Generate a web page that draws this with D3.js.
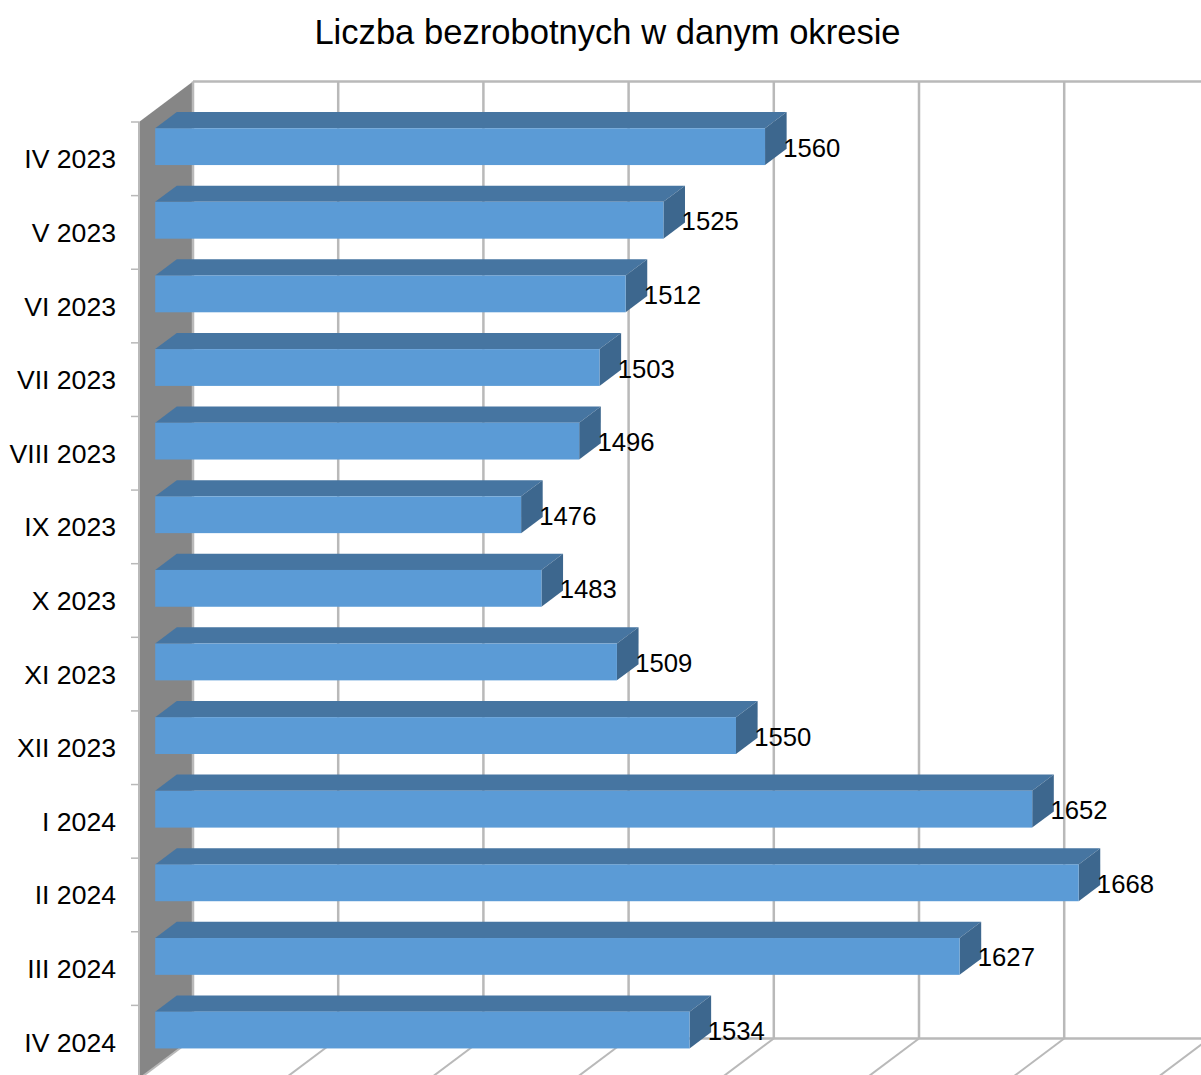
<!DOCTYPE html>
<html>
<head>
<meta charset="utf-8">
<script src="https://cdn.jsdelivr.net/npm/d3@7"></script>
<style>
  html, body { margin: 0; padding: 0; background: #fff; }
  svg { display: block; font-family: "Liberation Sans", Arial, sans-serif; font-kerning: none; }
</style>
</head>
<body>
<div id="chart"></div>
<script>
const categories = ["IV 2023", "V 2023", "VI 2023", "VII 2023", "VIII 2023", "IX 2023", "X 2023",
  "XI 2023", "XII 2023", "I 2024", "II 2024", "III 2024", "IV 2024"];
const values = [1560, 1525, 1512, 1503, 1496, 1476, 1483, 1509, 1550, 1652, 1668, 1627, 1534];
const xDomain = [1350, 1750];
const chartTitle = "Liczba bezrobotnych w danym okresie";

const width = 1201;
const height = 1075;

// front plane of the 3d box, depth goes up and to the right
const depthX = 54;
const depthY = -40.5;
const barNear = 0.3;
const barFar = 0.7;

const x = d3.scaleLinear().domain(xDomain).range([139, 1300.6]);
const y = d3.scaleBand().domain(categories).range([122, 1079]).paddingInner(0.5).paddingOuter(0.25);

const svg = d3.select("#chart").append("svg")
  .attr("width", width)
  .attr("height", height)
  .attr("viewBox", `0 0 ${width} ${height}`);

const gridColor = "#b9b9b9";
const gridTicks = d3.range(xDomain[0], xDomain[1] + 1, 50);
const [x0, x1] = [x(xDomain[0]), x(xDomain[1])];
const [yTop, yBot] = y.range();
const pts = a => a.map(p => p.join(",")).join(" ");

// side wall
svg.append("polygon")
  .attr("points", pts([[x0, yTop], [x0 + depthX, yTop + depthY], [x0 + depthX, yBot + depthY], [x0, yBot]]))
  .attr("fill", "#868686");
svg.append("line")
  .attr("x1", x0).attr("x2", x0).attr("y1", yTop).attr("y2", yBot)
  .attr("stroke", gridColor).attr("stroke-width", 2);

// back wall frame and grid
svg.append("g").selectAll("line")
  .data(gridTicks)
  .join("line")
  .attr("x1", d => x(d) + depthX).attr("x2", d => x(d) + depthX)
  .attr("y1", yTop + depthY).attr("y2", yBot + depthY)
  .attr("stroke", gridColor).attr("stroke-width", 2.5);

svg.append("g").selectAll("line")
  .data(gridTicks)
  .join("line")
  .attr("x1", d => x(d) + depthX).attr("y1", yBot + depthY)
  .attr("x2", d => x(d)).attr("y2", yBot)
  .attr("stroke", gridColor).attr("stroke-width", 2);

svg.append("g").selectAll("line")
  .data([yTop + depthY, yBot + depthY])
  .join("line")
  .attr("x1", x0 + depthX).attr("x2", x1 + depthX)
  .attr("y1", d => d).attr("y2", d => d)
  .attr("stroke", gridColor).attr("stroke-width", 2.5);

// category tick marks sit on the band edges
svg.append("g").selectAll("line")
  .data(d3.range(categories.length))
  .join("line")
  .attr("x1", x0 - 8).attr("x2", x0)
  .attr("y1", i => y(categories[i]) - y.step() * 0.25)
  .attr("y2", i => y(categories[i]) - y.step() * 0.25)
  .attr("stroke", gridColor).attr("stroke-width", 1.5);

// bars
const data = categories.map((c, i) => ({ cat: c, value: values[i] }));
const bars = svg.append("g").selectAll("g")
  .data(data)
  .join("g")
  .attr("class", "bar");

const nearX = d => x(d) + depthX * barNear;
const farX = d => x(d) + depthX * barFar;
const nearY = c => y(c) + depthY * barNear;
const farY = c => y(c) + depthY * barFar;

bars.append("polygon")
  .attr("points", d => pts([
    [nearX(xDomain[0]), nearY(d.cat)], [farX(xDomain[0]), farY(d.cat)],
    [farX(d.value), farY(d.cat)], [nearX(d.value), nearY(d.cat)]]))
  .attr("fill", "#4675a1");

bars.append("polygon")
  .attr("points", d => pts([
    [nearX(d.value), nearY(d.cat)], [farX(d.value), farY(d.cat)],
    [farX(d.value), farY(d.cat) + y.bandwidth()], [nearX(d.value), nearY(d.cat) + y.bandwidth()]]))
  .attr("fill", "#3d678e");

bars.append("rect")
  .attr("x", nearX(xDomain[0]))
  .attr("y", d => nearY(d.cat))
  .attr("width", d => x(d.value) - x(xDomain[0]))
  .attr("height", y.bandwidth())
  .attr("fill", "#5b9bd6");

// value labels
svg.append("g").selectAll("text")
  .data(data)
  .join("text")
  .attr("x", d => farX(d.value) - 3.4)
  .attr("y", d => nearY(d.cat) + y.bandwidth() / 2 + 10)
  .attr("font-size", 25.7)
  .attr("fill", "#000")
  .text(d => d.value);

// category labels
svg.append("g").selectAll("text")
  .data(categories)
  .join("text")
  .attr("x", 116)
  .attr("y", d => y(d) + y.bandwidth() / 2 + 9.5)
  .attr("text-anchor", "end")
  .attr("font-size", 26.6)
  .attr("fill", "#000")
  .text(d => d);

svg.append("text")
  .attr("x", 607.5)
  .attr("y", 44)
  .attr("text-anchor", "middle")
  .attr("font-size", 34.6)
  .attr("fill", "#000")
  .text(chartTitle);
</script>
</body>
</html>
